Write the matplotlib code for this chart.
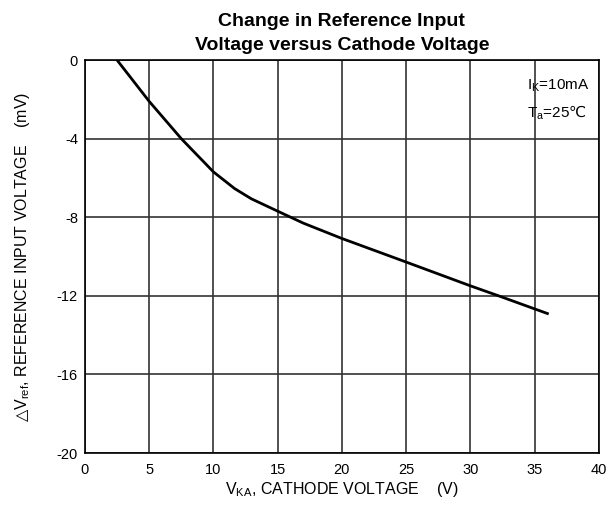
import matplotlib.pyplot as plt

# values
vka = [2.5, 5, 7.5, 10, 11.65, 12.95, 15, 17, 20, 25, 30, 32.2, 36]
dvref = [0, -2.1, -4.0, -5.69, -6.54, -7.06, -7.69, -8.3, -9.08, -10.28, -11.49, -12.0, -12.9]

xticks = [0, 5, 10, 15, 20, 25, 30, 35, 40]
yticks = [0, -4, -8, -12, -16, -20]

plt.rcParams["font.family"] = ["Liberation Sans", "DejaVu Sans"]
plt.rcParams["axes.unicode_minus"] = False
plt.rcParams["mathtext.fontset"] = "custom"
plt.rcParams["mathtext.rm"] = "Liberation Sans"
plt.rcParams["mathtext.it"] = "Liberation Sans"
plt.rcParams["mathtext.sf"] = "DejaVu Sans"  # for the triangle and degree-C signs
plt.rcParams["mathtext.default"] = "rm"

fig = plt.figure(figsize=(6.11, 5.09), dpi=100)
ax = fig.add_axes([0.139, 0.110, 0.841, 0.772])

ax.plot(vka, dvref, color="black", linewidth=2)

ax.set_xlim(0, 40)
ax.set_ylim(-20, 0)
ax.set_xticks(xticks)
ax.set_yticks(yticks)
ax.tick_params(length=0, labelsize=10.5)
ax.tick_params(axis="x", pad=7)
ax.tick_params(axis="y", pad=5)
ax.grid(True, color="#333333", linewidth=1.2)
for s in ax.spines.values():
    s.set_linewidth(1.2)

ax.set_xlabel("V$_{KA}$, CATHODE VOLTAGE    (V)", fontsize=11.5, labelpad=2)
ax.set_ylabel("$\\mathsf{\u25b3}$V$_{ref}$, REFERENCE INPUT VOLTAGE    (mV)",
              fontsize=11.5, labelpad=18)
ax.set_title("Change in Reference Input\nVoltage versus Cathode Voltage",
             fontsize=14, fontweight="bold", pad=7, linespacing=1.6)

ax.text(0.86, 0.955, "I$_{K}$=10mA\nT$_{a}$=25$\\mathsf{\u2103}$", transform=ax.transAxes,
        ha="left", va="top", fontsize=11, linespacing=1.65)

fig.savefig("out.png", dpi=100)
